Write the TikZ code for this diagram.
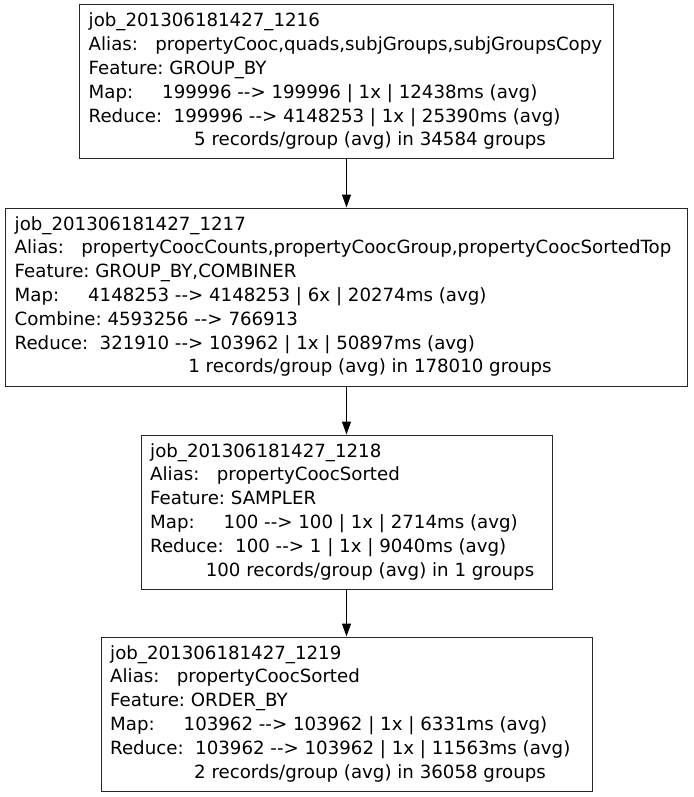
\documentclass[tikz,border=0pt]{standalone}
\usepackage{fontspec}
\newfontfamily\jobfontfamily{DejaVu Sans}
\usetikzlibrary{arrows.meta}
\newcommand\jobfont{\jobfontfamily\fontsize{18.2}{23.8}\selectfont}
\newcommand\jl[4]{\node[txt] (#1) at ([xshift=9.5pt,yshift={-22.5pt-23.8pt*(#3-1)}]#2.north west) {#4};}
\newcommand\jc[4]{\node[txtc] (#1) at ([xshift=23.5pt,yshift={-22.5pt-23.8pt*(#3-1)}]#2.north) {#4};}
\newcommand\ar{-{}->}
\tikzset{
  jobbox/.style={draw=black!85, line width=1pt, rectangle, inner sep=0pt, fill=white},
  txt/.style={anchor=base west, inner sep=0pt, font=\jobfont},
  txtc/.style={anchor=base, inner sep=0pt, font=\jobfont},
  flow/.style={draw=black, line width=1pt, -{Triangle[length=13pt,width=9pt]}}
}
\begin{document}
\begin{tikzpicture}[x=1pt,y=-1pt]
\useasboundingbox (0,0) rectangle (693,797);
\node[jobbox, minimum width=534pt, minimum height=153pt] (j1) at (346.5,81.5) {};
\node[jobbox, minimum width=682pt, minimum height=178pt] (j2) at (346.5,297) {};
\node[jobbox, minimum width=411pt, minimum height=154pt] (j3) at (346.5,512) {};
\node[jobbox, minimum width=491pt, minimum height=154pt] (j4) at (346.5,714) {};

\jl{a1}{j1}{1}{job\_201306181427\_1216}
\jl{a2}{j1}{2}{Alias:\ \ \ propertyCooc,quads,subjGroups,subjGroupsCopy}
\jl{a3}{j1}{3}{Feature:\ GROUP\_BY}
\jl{a4}{j1}{4}{Map:\ \ \ \ \ 199996 \ar{} 199996 | 1x | 12438ms (avg)}
\jl{a5}{j1}{5}{Reduce:\ \ 199996 \ar{} 4148253 | 1x | 25390ms (avg)}
\jc{a6}{j1}{6}{5 records/group (avg) in 34584 groups}

\jl{b1}{j2}{1}{job\_201306181427\_1217}
\jl{b2}{j2}{2}{Alias:\ \ \ propertyCoocCounts,propertyCoocGroup,propertyCoocSortedTop}
\jl{b3}{j2}{3}{Feature:\ GROUP\_BY,COMBINER}
\jl{b4}{j2}{4}{Map:\ \ \ \ \ 4148253 \ar{} 4148253 | 6x | 20274ms (avg)}
\jl{b5}{j2}{5}{Combine:\ 4593256 \ar{} 766913}
\jl{b6}{j2}{6}{Reduce:\ \ 321910 \ar{} 103962 | 1x | 50897ms (avg)}
\jc{b7}{j2}{7}{1 records/group (avg) in 178010 groups}

\jl{c1}{j3}{1}{job\_201306181427\_1218}
\jl{c2}{j3}{2}{Alias:\ \ \ propertyCoocSorted}
\jl{c3}{j3}{3}{Feature:\ SAMPLER}
\jl{c4}{j3}{4}{Map:\ \ \ \ \ 100 \ar{} 100 | 1x | 2714ms (avg)}
\jl{c5}{j3}{5}{Reduce:\ \ 100 \ar{} 1 | 1x | 9040ms (avg)}
\jc{c6}{j3}{6}{100 records/group (avg) in 1 groups}

\jl{d1}{j4}{1}{job\_201306181427\_1219}
\jl{d2}{j4}{2}{Alias:\ \ \ propertyCoocSorted}
\jl{d3}{j4}{3}{Feature:\ ORDER\_BY}
\jl{d4}{j4}{4}{Map:\ \ \ \ \ 103962 \ar{} 103962 | 1x | 6331ms (avg)}
\jl{d5}{j4}{5}{Reduce:\ \ 103962 \ar{} 103962 | 1x | 11563ms (avg)}
\jc{d6}{j4}{6}{2 records/group (avg) in 36058 groups}

\draw[flow] (j1.south) -- (j2.north);
\draw[flow] (j2.south) -- (j3.north);
\draw[flow] (j3.south) -- (j4.north);
\end{tikzpicture}
\end{document}
